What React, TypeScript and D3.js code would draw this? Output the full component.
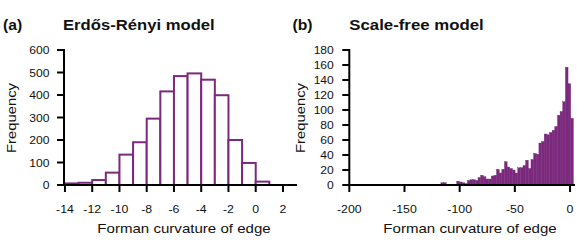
import React, { useEffect, useRef } from "react";
import * as d3 from "d3";

const WIDTH = 581;
const HEIGHT = 252;
const PURPLE = "#7b297d";
const FONT = "'Liberation Sans', Arial, Helvetica, sans-serif";

// (a) Erdős-Rényi model: unit-wide bins
const erBinStarts = [-14, -13, -12, -11, -10, -9, -8, -7, -6, -5, -4, -3, -2, -1, 0];
const erCounts = [7, 10, 22, 55, 135, 190, 295, 416, 484, 496, 468, 399, 200, 98, 15];
const erXTicks = [-14, -12, -10, -8, -6, -4, -2, 0, 2];
const erYTicks = [0, 100, 200, 300, 400, 500, 600];

// (b) Scale-free model: 50 equal bins between -117 and 3
const sfRange = [-117, 3];
const sfCounts = [
  3, 3, 0, 0, 0, 0, 5, 4, 3, 2,
  6, 7, 7, 6, 10, 13, 11, 8, 8, 12,
  13, 21, 16, 21, 31, 24, 22, 20, 16, 23,
  23, 26, 33, 22, 34, 42, 41, 56, 58, 68,
  67, 70, 73, 78, 93, 98, 111, 157, 135, 89,
];
const sfXTicks = [-200, -150, -100, -50, 0];
const sfYTicks = [0, 20, 40, 60, 80, 100, 120, 140, 160, 180];

const addText = (g, str, x, y, opts = {}) => {
  const { size = 11, weight = "normal", anchor = "start", sx = 1, rotate = 0 } = opts;
  g.append("text")
    .attr("transform", `translate(${x},${y})${rotate ? ` rotate(${rotate})` : ""} scale(${sx},1)`)
    .attr("text-anchor", anchor)
    .style("font-family", FONT)
    .style("font-size", `${size}px`)
    .style("font-weight", weight)
    .style("fill", "#111")
    .text(str);
};

const drawAxes = (g, x, y, xTicks, yTicks, axisX, labelGap) => {
  const y0 = y(0);
  const [xa, xb] = x.range();
  // y axis
  g.append("line")
    .attr("x1", axisX).attr("x2", axisX)
    .attr("y1", y(yTicks[yTicks.length - 1]) - 1).attr("y2", y0 + 1)
    .attr("stroke", "#000").attr("stroke-width", 2);
  yTicks.forEach((t) => {
    g.append("line")
      .attr("x1", axisX - 7).attr("x2", axisX)
      .attr("y1", y(t)).attr("y2", y(t))
      .attr("stroke", "#000").attr("stroke-width", 2);
    addText(g, String(t), axisX - labelGap, y(t) + 4, { size: 11, anchor: "end", sx: 1.1 });
  });
  // x axis
  g.append("line")
    .attr("x1", xa - 1).attr("x2", xb)
    .attr("y1", y0).attr("y2", y0)
    .attr("stroke", "#000").attr("stroke-width", 2);
  xTicks.forEach((t) => {
    g.append("line")
      .attr("x1", x(t)).attr("x2", x(t))
      .attr("y1", y0).attr("y2", y0 + 7)
      .attr("stroke", "#000").attr("stroke-width", 2);
    addText(g, String(t), x(t), 213, { size: 11, anchor: "middle", sx: 1.12 });
  });
};

const App = () => {
  const svgRef = useRef(null);

  useEffect(() => {
    const svg = d3.select(svgRef.current);
    svg.selectAll("*").remove();

    // ---- panel (a)
    const ga = svg.append("g");
    const xa = d3.scaleLinear().domain([-14.07, 3.03]).range([64, 297]);
    const ya = d3.scaleLinear().domain([0, 600]).range([185, 50]);

    ga.selectAll("rect")
      .data(erBinStarts.map((s, i) => ({ s, c: erCounts[i] })))
      .enter()
      .append("rect")
      .attr("x", (d) => xa(d.s))
      .attr("width", (d) => xa(d.s + 1) - xa(d.s))
      .attr("y", (d) => ya(d.c))
      .attr("height", (d) => ya(0) - ya(d.c))
      .attr("fill", "#fff")
      .attr("stroke", PURPLE)
      .attr("stroke-width", 2);

    drawAxes(ga, xa, ya, erXTicks, erYTicks, 64, 14.5);

    addText(ga, "(a)", 3, 29.5, { size: 14, weight: "bold", sx: 1.12 });
    addText(ga, "Erdős-Rényi model", 63, 29.5, { size: 14, weight: "bold", sx: 1.19 });
    addText(ga, "Forman curvature of edge", 184, 233, { size: 13, anchor: "middle", sx: 1.16 });
    addText(ga, "Frequency", 15.5, 118, { size: 13, anchor: "middle", sx: 1.14, rotate: -90 });

    // ---- panel (b)
    const gb = svg.append("g");
    const xb = d3.scaleLinear().domain([-200, 4.5]).range([349.3, 575]);
    const yb = d3.scaleLinear().domain([0, 180]).range([185, 50]);
    const bw = (sfRange[1] - sfRange[0]) / sfCounts.length;

    gb.selectAll("rect")
      .data(sfCounts.map((c, i) => ({ s: sfRange[0] + i * bw, c })))
      .enter()
      .append("rect")
      .attr("x", (d) => xb(d.s))
      .attr("width", (d) => xb(d.s + bw) - xb(d.s))
      .attr("y", (d) => yb(d.c))
      .attr("height", (d) => yb(0) - yb(d.c))
      .attr("fill", PURPLE)
      .attr("stroke", PURPLE)
      .attr("stroke-width", 0.4);

    drawAxes(gb, xb, yb, sfXTicks, sfYTicks, 349.3, 15.5);

    addText(gb, "(b)", 292.5, 29.5, { size: 14, weight: "bold", sx: 1.12 });
    addText(gb, "Scale-free model", 349.3, 29.5, { size: 14, weight: "bold", sx: 1.2 });
    addText(gb, "Forman curvature of edge", 470, 233, { size: 13, anchor: "middle", sx: 1.16 });
    addText(gb, "Frequency", 305, 118, { size: 13, anchor: "middle", sx: 1.14, rotate: -90 });
  }, []);

  return (
    <svg
      ref={svgRef}
      width={WIDTH}
      height={HEIGHT}
      style={{ position: "absolute", left: 0, top: 0, background: "#fff" }}
    ></svg>
  );
};

export default App;
